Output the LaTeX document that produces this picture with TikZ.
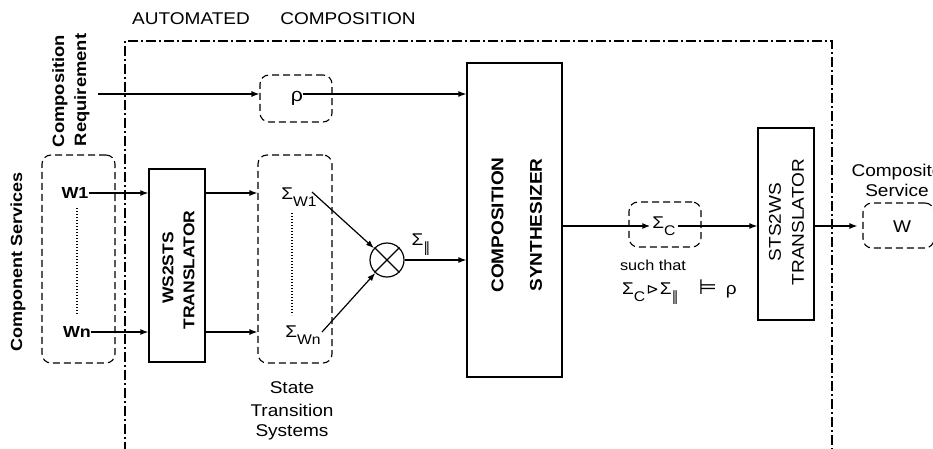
\documentclass[tikz,border=0pt]{standalone}
\usepackage{fontspec}
\setmainfont[FakeStretch=1.12]{Liberation Sans}
\newfontfamily\symf{DejaVu Sans}
\usetikzlibrary{arrows.meta}
\newcommand\fsz[1]{\fontsize{#1}{#1}\selectfont}
\newcommand\subs[1]{\raisebox{-0.42em}{\fsz{14}#1}}
\newcommand\parl{{\symf ∥}}
\begin{document}
\begin{tikzpicture}[x=1pt,y=-1pt,
  lbl/.style={font=\fsz{17}, inner sep=0pt},
  blbl/.style={inner sep=0pt},
  solidbox/.style={draw, line width=1.3pt, inner sep=0pt},
  dbox/.style={draw, dash pattern=on 7pt off 4pt, rounded corners=9pt, line width=1.1pt, inner sep=0pt},
  arr/.style={line width=1.2pt, -{Latex[length=8pt,width=6pt]}},
  dotln/.style={line width=1.1pt, dash pattern=on 1.2pt off 1.8pt},
  outer/.style={line width=1.1pt, dash pattern=on 10pt off 3pt on 2pt off 3pt}]
\useasboundingbox (0,0) rectangle (933,448);

% outer automated composition frame
\draw[outer] (125,470) -- (125,41) -- (832,41) -- (832,470);
\node[lbl] (t1) at (191,19) {AUTOMATED};
\node[lbl] (t2) at (348,19) {COMPOSITION};

% left labels
\node[blbl, rotate=90, font=\fsz{16.4}\bfseries] (cr1) at (60,91) {Composition};
\node[blbl, rotate=90, font=\fsz{16.4}\bfseries] (cr2) at (82,90) {Requirement};
\node[blbl, rotate=90, font=\fsz{16.1}\bfseries] (cs) at (18,262) {Component Services};

% boxes
\node[dbox, minimum width=73pt, minimum height=208pt] (wbox) at (78.5,259) {};
\node[blbl, font=\fsz{16}\bfseries] (w1) at (75,193) {W1};
\node[blbl, font=\fsz{16}\bfseries] (wn) at (77,332) {Wn};
\draw[dotln] (77,208) -- (77,315);

\node[solidbox, minimum width=56pt, minimum height=193pt] (ws) at (177,265.5) {};
\node[blbl, rotate=90, font=\fsz{15.6}\bfseries] (ws1) at (168,268) {WS2STS};
\node[blbl, rotate=90, font=\fsz{15.6}\bfseries] (ws2) at (189,270) {TRANSLATOR};

\node[dbox, minimum width=72pt, minimum height=47pt] (rbox) at (296,98.5) {};
\node[lbl, font=\fsz{19}] (rho) at (297,98) {ρ};

\node[dbox, minimum width=74pt, minimum height=208pt] (sbox) at (295,259) {};
\node[lbl] (sw1) at (299,197) {Σ\subs{W1}};
\node[lbl] (swn) at (303,335) {Σ\subs{Wn}};
\draw[dotln] (292,213) -- (292,315);
\coordinate (s1) at (312,192);
\coordinate (sn) at (322,332);

\node[lbl] (st1) at (292,388) {State};
\node[lbl] (st2) at (292,410) {Transition};
\node[lbl] (st3) at (292,432) {Systems};

\node[draw, circle, line width=1.2pt, minimum size=34pt, inner sep=0pt] (ot) at (387,260) {};
\draw[line width=1.2pt] (ot.north west) -- (ot.south east) (ot.north east) -- (ot.south west);
\node[lbl] (spar) at (421,245) {Σ\subs{\parl}};

\node[solidbox, minimum width=95pt, minimum height=314pt] (syn) at (514.5,220) {};
\node[blbl, rotate=90, font=\fsz{17}\bfseries] (syn1) at (497.5,225) {COMPOSITION};
\node[blbl, rotate=90, font=\fsz{17}\bfseries] (syn2) at (536,225) {SYNTHESIZER};

\node[dbox, minimum width=72pt, minimum height=45pt] (cbox) at (665,224.5) {};
\node[lbl, inner sep=2pt] (sc) at (664,226) {Σ\subs{C}};
\node[lbl, font=\fsz{14.5}] (such) at (653,265) {such that};
\node[lbl, anchor=west] (cond) at (622,292) {Σ\subs{C}\hspace{1pt}{\symf\fsz{15}⊳}\hspace{1pt}Σ\subs{\parl}\hspace{20pt}{\symf\fsz{21}⊨}\hspace{9pt}ρ};

\node[solidbox, minimum width=56pt, minimum height=192pt] (sts) at (786,224) {};
\node[lbl, rotate=90] (sts1) at (775,222) {STS2WS};
\node[lbl, rotate=90] (sts2) at (798,222) {TRANSLATOR};

\node[dbox, minimum width=71pt, minimum height=45pt] (wout) at (898.5,225.5) {};
\node[lbl] (wo) at (902,227) {W};
\node[lbl] (cs1) at (897,172) {Composite};
\node[lbl] (cs2) at (897,190) {Service};

% connectors
\coordinate (crq) at (98,94);
\draw[arr] (crq) -- (crq -| rbox.west);
\draw[arr] (rho.east |- crq) -- (crq -| syn.west);
\draw[arr] (w1.east) -- (w1.east -| ws.west);
\draw[arr] (wn.east) -- (wn.east -| ws.west);
\draw[arr] (w1.east -| ws.east) -- (w1.east -| sbox.west);
\draw[arr] (wn.east -| ws.east) -- (wn.east -| sbox.west);
\draw[arr] (s1) -- (ot);
\draw[arr] (sn) -- (ot);
\draw[arr] (ot.east) -- (ot.east -| syn.west);
\draw[arr] (syn.east |- sc) -- (sc.west);
\draw[arr] (sc.east) -- (sc -| sts.west);
\draw[arr, shorten >=5pt] (sts.east |- sc) -- (sc -| wout.west);
\end{tikzpicture}
\end{document}
